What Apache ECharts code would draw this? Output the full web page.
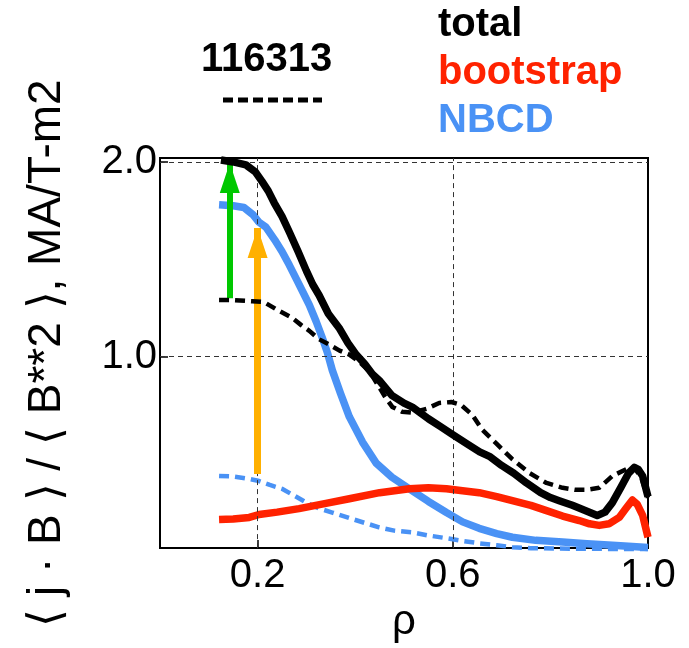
<!DOCTYPE html>
<html><head><meta charset="utf-8">
<script src="https://cdn.jsdelivr.net/npm/echarts@6/dist/echarts.min.js"></script>
<style>html,body{margin:0;padding:0;background:#fff}#c{width:689px;height:648px}</style>
</head><body><div id="c"></div>
<script>
const FONT = '"Liberation Sans", Arial, Helvetica, sans-serif';
const shotLabel = '116313';
const seriesNames = ['total', 'bootstrap', 'NBCD'];
const xTicks = [0.2, 0.6, 1.0];
const yTicks = [1.0, 2.0];

// solid lines
const total = [[0.125,2.01],[0.15,2.0],[0.176,1.985],[0.195,1.95],[0.209,1.90],[0.222,1.85],[0.234,1.79],[0.25,1.72],[0.265,1.64],[0.283,1.54],[0.30,1.44],[0.313,1.37],[0.326,1.315],[0.345,1.22],[0.367,1.147],[0.385,1.07],[0.402,1.01],[0.42,0.96],[0.435,0.91],[0.449,0.878],[0.475,0.80],[0.50,0.76],[0.517,0.74],[0.55,0.68],[0.575,0.64],[0.599,0.60],[0.63,0.55],[0.655,0.51],[0.675,0.487],[0.70,0.44],[0.725,0.40],[0.751,0.35],[0.78,0.30],[0.80,0.275],[0.818,0.259],[0.845,0.235],[0.87,0.21],[0.896,0.183],[0.912,0.20],[0.927,0.249],[0.945,0.33],[0.96,0.40],[0.972,0.43],[0.98,0.42],[0.989,0.386],[1.0,0.28]];
const bootstrap = [[0.121,0.162],[0.15,0.165],[0.183,0.173],[0.203,0.188],[0.24,0.20],[0.285,0.218],[0.34,0.245],[0.388,0.269],[0.45,0.30],[0.511,0.32],[0.55,0.325],[0.587,0.32],[0.62,0.31],[0.654,0.30],[0.69,0.28],[0.722,0.259],[0.76,0.235],[0.792,0.208],[0.825,0.18],[0.859,0.157],[0.88,0.14],[0.9,0.132],[0.92,0.14],[0.941,0.173],[0.955,0.22],[0.968,0.262],[0.978,0.24],[0.989,0.183],[1.0,0.071]];
const nbcd = [[0.121,1.78],[0.15,1.775],[0.172,1.766],[0.19,1.73],[0.203,1.69],[0.217,1.665],[0.235,1.60],[0.25,1.54],[0.265,1.47],[0.279,1.40],[0.293,1.33],[0.306,1.265],[0.32,1.18],[0.332,1.10],[0.343,1.02],[0.353,0.93],[0.37,0.81],[0.388,0.69],[0.415,0.56],[0.443,0.452],[0.475,0.38],[0.511,0.32],[0.55,0.255],[0.587,0.198],[0.62,0.15],[0.654,0.117],[0.69,0.09],[0.722,0.071],[0.77,0.055],[0.825,0.046],[0.875,0.037],[0.927,0.03],[0.96,0.025],[1.0,0.018]];
// dashed lines (shot 116313)
const totalShot = [[0.121,1.29],[0.15,1.29],[0.189,1.284],[0.213,1.28],[0.24,1.24],[0.271,1.198],[0.29,1.16],[0.306,1.132],[0.325,1.09],[0.347,1.061],[0.368,1.03],[0.388,1.01],[0.41,0.97],[0.43,0.92],[0.449,0.843],[0.462,0.79],[0.476,0.741],[0.496,0.716],[0.517,0.711],[0.546,0.731],[0.572,0.761],[0.597,0.766],[0.617,0.751],[0.64,0.70],[0.66,0.624],[0.689,0.553],[0.722,0.472],[0.757,0.401],[0.792,0.35],[0.825,0.325],[0.85,0.315],[0.874,0.315],[0.9,0.325],[0.927,0.386],[0.956,0.421],[0.972,0.431],[0.987,0.371],[1.0,0.274]];
const nbcdShot = [[0.121,0.386],[0.15,0.383],[0.183,0.371],[0.203,0.36],[0.225,0.34],[0.25,0.32],[0.275,0.285],[0.3,0.249],[0.325,0.22],[0.353,0.198],[0.39,0.168],[0.423,0.142],[0.449,0.122],[0.48,0.105],[0.517,0.096],[0.55,0.08],[0.587,0.066],[0.62,0.052],[0.654,0.04],[0.69,0.03],[0.722,0.02],[0.76,0.015],[0.85,0.012],[1.0,0.01]];
// arrows: from dashed value up to solid value
const greenArrow = [[0.143,1.30],[0.143,1.995]];
const orangeArrow = [[0.2,0.396],[0.2,1.66]];

const colors = {total:'#000000', bootstrap:'#ff2200', NBCD:'#4a92f5', green:'#00c800', orange:'#ffb000'};

function lineSeries(name, data, color, width, dashed, z) {
  return {
    type: 'line', name: name, data: data, showSymbol: false, symbol: 'none',
    clip: false, z: z, silent: true,
    lineStyle: {color: color, width: width, type: dashed ? [10, 6] : 'solid', cap: 'butt', join: 'round'},
    itemStyle: {color: color}
  };
}

const chart = echarts.init(document.getElementById('c'));
chart.setOption({
  animation: false,
  backgroundColor: '#ffffff',
  title: {
    text: shotLabel, left: 201, top: 40, padding: 0,
    textStyle: {fontSize: 40, fontWeight: 'bold', color: '#000', fontFamily: FONT}
  },
  legend: {
    orient: 'vertical', left: 433, top: 1, padding: 0, itemGap: 0,
    icon: 'none', itemWidth: 0, itemHeight: 10, selectedMode: false,
    textStyle: {fontSize: 40, fontWeight: 'bold', fontFamily: FONT, lineHeight: 48},
    data: seriesNames.map(n => ({name: n, textStyle: {color: colors[n]}}))
  },
  graphic: [{
    type: 'line', shape: {x1: 223, y1: 100, x2: 322, y2: 100},
    style: {stroke: '#000', lineWidth: 5, lineDash: [10, 5]}
  }],
  grid: {left: 160, top: 158, width: 488, height: 395, show: true, borderColor: '#000', borderWidth: 2, containLabel: false},
  xAxis: {
    type: 'value', min: 0, max: 1,
    name: 'ρ', nameLocation: 'middle', nameGap: 50,
    nameTextStyle: {fontSize: 42, color: '#000', fontFamily: FONT},
    axisLine: {show: true, onZero: false, lineStyle: {color: '#000', width: 2}},
    axisTick: {show: true, inside: true, length: 8, customValues: xTicks, lineStyle: {color: '#000', width: 1.5}},
    axisLabel: {customValues: xTicks, formatter: v => v.toFixed(1), fontSize: 40, color: '#000', fontFamily: FONT, margin: 8},
    splitLine: {show: false}
  },
  yAxis: {
    type: 'value', min: 0.0152, max: 2.0203,
    name: '⟨ j · B ⟩ / ⟨ B**2 ⟩, MA/T-m2', nameLocation: 'middle', nameGap: 90,
    nameTextStyle: {fontSize: 46, color: '#000', fontFamily: FONT},
    axisLine: {show: true, onZero: false, lineStyle: {color: '#000', width: 2}},
    axisTick: {show: true, inside: true, length: 8, customValues: yTicks, lineStyle: {color: '#000', width: 1.5}},
    axisLabel: {customValues: yTicks, formatter: v => v.toFixed(1), fontSize: 40, color: '#000', fontFamily: FONT, margin: 3},
    splitLine: {show: false}
  },
  series: [
    {
      type: 'line', name: 'grid', data: [], z: 1, silent: true,
      markLine: {
        silent: true, symbol: 'none', animation: false,
        label: {show: false},
        lineStyle: {color: '#333', width: 1, type: [5, 4]},
        data: xTicks.filter(v => v < 1).map(v => ({xAxis: v})).concat(yTicks.map(v => ({yAxis: v})))
      }
    },
    lineSeries('NBCD 116313', nbcdShot, colors.NBCD, 4.5, true, 2),
    lineSeries('NBCD', nbcd, colors.NBCD, 7.5, false, 3),
    lineSeries('bootstrap', bootstrap, colors.bootstrap, 7.5, false, 4),
    lineSeries('total 116313', totalShot, colors.total, 4.5, true, 5),
    lineSeries('total', total, colors.total, 7.5, false, 6),
    {
      type: 'line', name: 'arrows', data: [], z: 10, silent: true,
      markLine: {
        silent: true, animation: false,
        symbol: ['none', 'triangle'], symbolSize: [20, 30], symbolOffset: [[0, 0], [0, 15]],
        label: {show: false},
        data: [
          [{coord: greenArrow[0], lineStyle: {color: colors.green, width: 6, type: 'solid'}, itemStyle: {color: colors.green}}, {coord: greenArrow[1]}],
          [{coord: orangeArrow[0], lineStyle: {color: colors.orange, width: 7, type: 'solid'}, itemStyle: {color: colors.orange}}, {coord: orangeArrow[1]}]
        ]
      }
    }
  ]
});
</script>
</body></html>
